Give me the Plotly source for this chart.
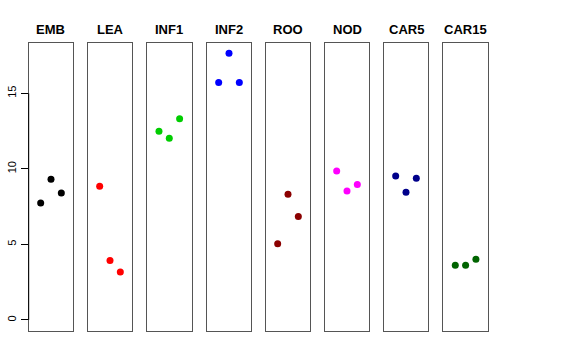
import plotly.graph_objects as go

tissues = ["EMB", "LEA", "INF1", "INF2", "ROO", "NOD", "CAR5", "CAR15"]
rep_x = [1, 2, 3]
values = {
    "EMB":   [7.74, 9.31, 8.40],
    "LEA":   [8.85, 3.93, 3.18],
    "INF1":  [12.49, 12.02, 13.32],
    "INF2":  [15.71, 17.65, 15.71],
    "ROO":   [5.05, 8.32, 6.84],
    "NOD":   [9.86, 8.54, 8.96],
    "CAR5":  [9.53, 8.45, 9.38],
    "CAR15": [3.62, 3.62, 4.02],
}
colors = ["#000000", "#FF0000", "#00CD00", "#0000FF", "#8B0000", "#FF00FF", "#00008B", "#006400"]
y_ticks = [0, 5, 10, 15]

W, H = 576, 360
panel_left = [28.7, 87.7, 147.0, 206.7, 265.7, 324.7, 383.7, 443.3]
panel_w = 44.6
panel_top, panel_bot = 42.7, 331.0
yrange = [-0.73, 18.35]
xrange = [-0.16, 4.16]

fig = go.Figure()
layout = dict(
    width=W, height=H, margin=dict(l=0, r=0, t=0, b=0, autoexpand=False),
    paper_bgcolor="white", plot_bgcolor="white", showlegend=False,
    font=dict(family="Liberation Sans, Arial, sans-serif", color="black"),
)
annotations = []
shapes = []
for i, (t, c) in enumerate(zip(tissues, colors)):
    n = "" if i == 0 else str(i + 1)
    fig.add_trace(go.Scatter(
        x=rep_x, y=values[t], mode="markers",
        marker=dict(color=c, size=7, line=dict(width=0)),
        xaxis="x" + n, yaxis="y" + n, hoverinfo="skip",
    ))
    x0 = panel_left[i] / W
    x1 = (panel_left[i] + panel_w) / W
    layout["xaxis" + n] = dict(
        domain=[x0, x1], range=xrange, showticklabels=False, ticks="",
        showgrid=False, zeroline=False, showline=True, mirror=True,
        linecolor="#555555", linewidth=1, anchor="y" + n, fixedrange=True,
        automargin=False,
    )
    ya = dict(
        domain=[(H - panel_bot) / H, (H - panel_top) / H], range=yrange,
        showgrid=False, zeroline=False, showline=True, mirror=True,
        linecolor="#555555", linewidth=1, anchor="x" + n, fixedrange=True,
        automargin=False,
    )
    if i == 0:
        ya.update(tickmode="array", tickvals=y_ticks, ticktext=[str(v) for v in y_ticks],
                  ticks="outside", ticklen=7, tickcolor="black", tickwidth=1,
                  tickangle=-90, tickfont=dict(size=11, color="black"))
    else:
        ya.update(showticklabels=False, ticks="")
    layout["yaxis" + n] = ya
    annotations.append(dict(
        text="<b>" + t + "</b>", x=(x0 + x1) / 2, y=(H - 29) / H,
        xref="paper", yref="paper", showarrow=False,
        font=dict(size=13, color="black"), xanchor="center", yanchor="middle",
    ))

shapes.append(dict(type="line", xref="x domain", yref="y", x0=0, x1=0,
                   y0=y_ticks[0], y1=y_ticks[-1], line=dict(color="black", width=1)))
layout["annotations"] = annotations
layout["shapes"] = shapes
fig.update_layout(**layout)
fig.write_html("out.html", config={"staticPlot": True},
               post_script="document.body.style.margin='0';document.body.style.overflow='hidden';")
